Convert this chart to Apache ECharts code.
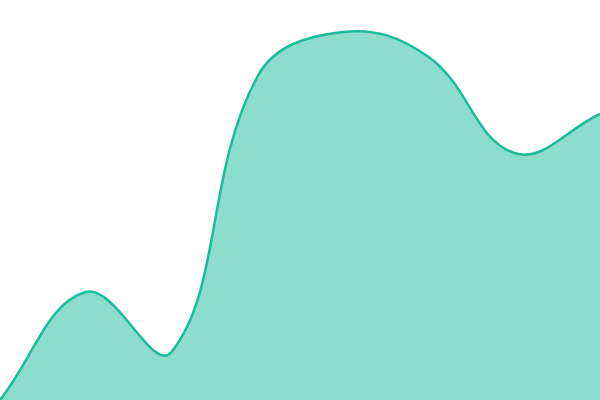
<!DOCTYPE html>
<html>
<head>
<meta charset="utf-8">
<script src="https://cdn.jsdelivr.net/npm/echarts@6/dist/echarts.min.js"></script>
<style>
  html, body { margin: 0; padding: 0; background: #fff; }
  #main { width: 600px; height: 400px; }
</style>
</head>
<body>
<div id="main"></div>
<script>
var categories = ['1', '2', '3', '4', '5', '6', '7', '8'];
var values = [0, 108, 48, 323, 368, 343, 247, 286];
var tension = 0.4;

var chart = echarts.init(document.getElementById('main'));

// cardinal spline control points (prev/next) for every point
function controlPoints(pts) {
  var out = [];
  for (var i = 0; i < pts.length; i++) {
    var p1 = pts[i];
    var p0 = pts[i - 1] || p1;
    var p2 = pts[i + 1] || p1;
    var d01 = Math.hypot(p1[0] - p0[0], p1[1] - p0[1]);
    var d12 = Math.hypot(p2[0] - p1[0], p2[1] - p1[1]);
    var s01 = d01 / (d01 + d12) || 0;
    var s12 = d12 / (d01 + d12) || 0;
    var fa = tension * s01, fb = tension * s12;
    out.push({
      prev: [p1[0] - fa * (p2[0] - p0[0]), p1[1] - fa * (p2[1] - p0[1])],
      next: [p1[0] + fb * (p2[0] - p0[0]), p1[1] + fb * (p2[1] - p0[1])]
    });
  }
  return out;
}

function renderCurve(params, api) {
  if (params.dataIndex !== 0) return;
  var pts = values.map(function (v, i) { return api.coord([i, v]); });
  var cps = controlPoints(pts);
  var d = 'M' + pts[0][0] + ' ' + pts[0][1];
  for (var i = 1; i < pts.length; i++) {
    var a = cps[i - 1].next, b = cps[i].prev;
    d += ' C' + a[0] + ' ' + a[1] + ' ' + b[0] + ' ' + b[1] + ' ' + pts[i][0] + ' ' + pts[i][1];
  }
  var base = api.coord([0, 0])[1];
  var area = d + ' L' + pts[pts.length - 1][0] + ' ' + base + ' L' + pts[0][0] + ' ' + base + ' Z';
  return {
    type: 'group',
    children: [
      {
        type: 'path',
        shape: { pathData: area },
        style: { fill: 'rgba(26,188,156,0.5)', stroke: null }
      },
      {
        type: 'path',
        shape: { pathData: d },
        style: { fill: null, stroke: '#1abc9c', lineWidth: 2.5 }
      }
    ]
  };
}

var option = {
  animation: false,
  grid: { left: 0, right: 0, top: 0, bottom: 0 },
  xAxis: {
    type: 'category',
    data: categories,
    boundaryGap: false,
    show: false
  },
  yAxis: {
    type: 'value',
    min: 0,
    max: 400,
    show: false
  },
  series: [{
    type: 'custom',
    renderItem: renderCurve,
    data: values.map(function (v, i) { return [i, v]; })
  }]
};

chart.setOption(option);
</script>
</body>
</html>
